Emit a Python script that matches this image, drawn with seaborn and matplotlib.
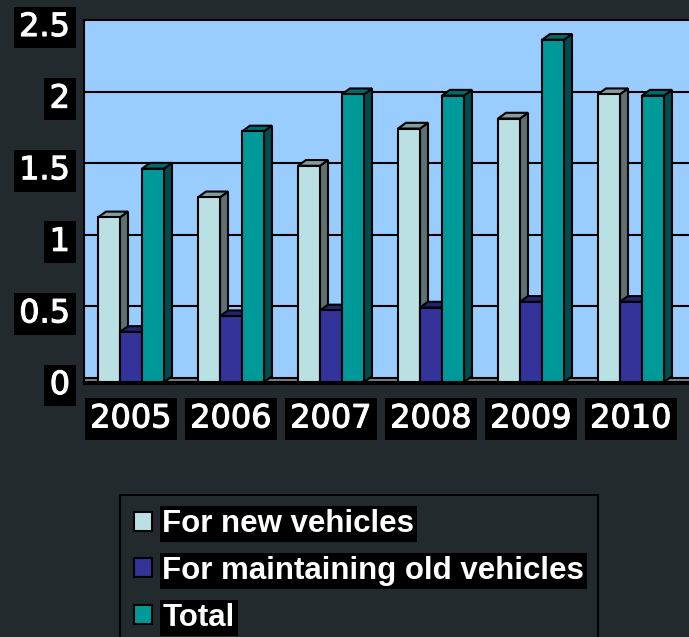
import numpy as np
import pandas as pd
import seaborn as sns
import matplotlib.pyplot as plt
import matplotlib.patheffects as pe
from matplotlib.patches import Polygon, Patch
import matplotlib.colors as mcolors

years = ["2005", "2006", "2007", "2008", "2009", "2010"]
new_vehicles = [1.15, 1.29, 1.51, 1.77, 1.84, 2.01]
old_vehicles = [0.35, 0.46, 0.50, 0.52, 0.56, 0.56]
total = [1.49, 1.75, 2.01, 2.0, 2.39, 2.0]
series = ["For new vehicles", "For maintaining old vehicles", "Total"]
colors = ["#bbe0e3", "#333399", "#009999"]

bg = "#222a2e"

df = pd.DataFrame({
    "year": years * 3,
    "value": new_vehicles + old_vehicles + total,
    "series": [s for s in series for _ in years],
})

sns.set_style("white")
plt.rcParams["font.family"] = ["DejaVu Sans"]

fig = plt.figure(figsize=(6.89, 6.37), dpi=100, facecolor=bg)
W, H = 689, 637
ax = fig.add_axes([84 / W, (H - 384) / H, (700 - 84) / W, 364 / H])
ax.set_facecolor("#99ccff")

sns.barplot(data=df, x="year", y="value", hue="series", palette=colors,
            saturation=1, width=0.66, edgecolor="black", linewidth=1.5,
            legend=False, ax=ax, zorder=10)
bars = sorted([p for p in ax.patches if p.get_height() > 0], key=lambda p: p.get_x())

# back wall sits a little above/behind the front plane
wall = 0.028
ax.set_xlim(-0.47, 5.69)
ax.set_ylim(-0.014, 2.5 + wall)
ax.set_yticks([0, 0.5, 1, 1.5, 2, 2.5])
ax.set_yticklabels(["0", "0.5", "1", "1.5", "2", "2.5"])
ax.grid(False)
for yv in [0, 0.5, 1, 1.5, 2]:
    ax.axhline(yv + wall, color="black", lw=1.5, zorder=2)
ax.axhspan(0, wall, color="#808080", zorder=1)
ax.axhline(0, color="black", lw=1.5, zorder=2)

# 3D depth for each bar
dx, dy = 0.08, 0.04
for i, p in enumerate(bars):
    x, w, h = p.get_x(), p.get_width(), p.get_height()
    fc = np.array(mcolors.to_rgb(p.get_facecolor()))
    p.set_zorder(10 + 2 * i + 1)
    side = Polygon([(x + w, 0), (x + w + dx, dy), (x + w + dx, h + dy), (x + w, h)],
                   closed=True, facecolor=fc * 0.5, edgecolor="black", lw=1.5,
                   zorder=10 + 2 * i)
    top = Polygon([(x, h), (x + dx, h + dy), (x + w + dx, h + dy), (x + w, h)],
                  closed=True, facecolor=fc * 0.7, edgecolor="black", lw=1.5,
                  zorder=10 + 2 * i)
    ax.add_patch(side)
    ax.add_patch(top)

for s in ax.spines.values():
    s.set_color("black")
    s.set_linewidth(1.5)

ax.set_xlabel("")
ax.set_ylabel("")
ax.tick_params(axis="both", length=0, colors="white", labelsize=23)
ax.tick_params(axis="x", pad=14)
ax.tick_params(axis="y", pad=10)
for t in ax.get_xticklabels() + ax.get_yticklabels():
    t.set_bbox(dict(facecolor="black", edgecolor="none", pad=4))
    t.set_path_effects([pe.withStroke(linewidth=0.8, foreground="white")])

handles = [Patch(facecolor=c, edgecolor="black", lw=1.5) for c in colors]
leg = fig.legend(handles, series, loc="upper left",
                 bbox_to_anchor=(120 / W, 1 - 495 / H), borderaxespad=0,
                 frameon=True, facecolor=bg, edgecolor="black",
                 handlelength=0.56, handleheight=0.56, handletextpad=0.35,
                 labelspacing=0.54, borderpad=0.45, fancybox=False, framealpha=1,
                 prop={"family": "Liberation Sans", "weight": "bold", "size": 22.5})
leg.get_frame().set_linewidth(1.5)
for t in leg.get_texts():
    t.set_color("white")
    t.set_bbox(dict(facecolor="black", edgecolor="none", pad=2))

fig.savefig("out.png", dpi=100, facecolor=bg)
